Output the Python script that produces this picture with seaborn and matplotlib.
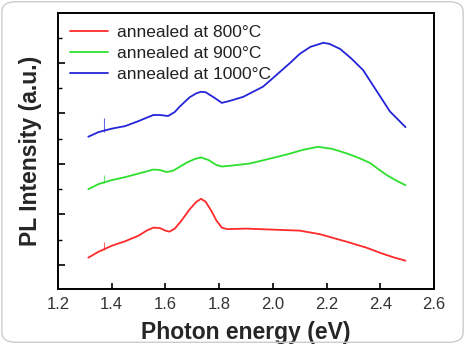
import matplotlib
matplotlib.use('Agg')
import matplotlib.pyplot as plt
import seaborn as sns
import pandas as pd
from matplotlib.patches import FancyBboxPatch
from matplotlib.ticker import MultipleLocator

# values (offset traces, arbitrary units)
x_800 = [1.313, 1.35, 1.40, 1.45, 1.50, 1.53, 1.555, 1.58, 1.60, 1.615, 1.635, 1.66, 1.69,
         1.715, 1.733, 1.75, 1.77, 1.79, 1.81, 1.83, 1.90, 2.00, 2.10, 2.175, 2.275, 2.35,
         2.40, 2.45, 2.494]
y_800 = [0.145, 0.26, 0.38, 0.47, 0.58, 0.68, 0.74, 0.73, 0.68, 0.66, 0.72, 0.88, 1.10,
         1.25, 1.31, 1.25, 1.08, 0.88, 0.74, 0.71, 0.72, 0.70, 0.68, 0.61, 0.46, 0.34,
         0.24, 0.15, 0.085]

x_900 = [1.313, 1.35, 1.40, 1.45, 1.50, 1.555, 1.58, 1.605, 1.63, 1.68, 1.71, 1.732, 1.76,
         1.79, 1.81, 1.85, 1.915, 2.00, 2.06, 2.112, 2.168, 2.22, 2.275, 2.32, 2.362, 2.40,
         2.424, 2.46, 2.494]
y_900 = [1.50, 1.60, 1.68, 1.74, 1.81, 1.89, 1.88, 1.84, 1.87, 2.03, 2.10, 2.13, 2.08,
         1.98, 1.95, 1.97, 2.01, 2.12, 2.20, 2.28, 2.34, 2.30, 2.21, 2.12, 2.02, 1.87,
         1.78, 1.67, 1.58]

x_1000 = [1.313, 1.35, 1.40, 1.45, 1.50, 1.555, 1.58, 1.61, 1.635, 1.654, 1.69, 1.715,
          1.733, 1.75, 1.78, 1.81, 1.84, 1.89, 1.963, 2.00, 2.064, 2.10, 2.14, 2.188, 2.21,
          2.25, 2.29, 2.336, 2.386, 2.436, 2.494]
y_1000 = [2.54, 2.63, 2.70, 2.75, 2.85, 2.97, 2.97, 2.95, 3.03, 3.14, 3.32, 3.40,
          3.43, 3.42, 3.32, 3.21, 3.25, 3.33, 3.53, 3.70, 4.00, 4.18, 4.32, 4.40, 4.38,
          4.28, 4.10, 3.86, 3.45, 3.04, 2.73]

# small spikes near 1.37 eV
spike_x = 1.37
spike_low = [0.30, 1.63, 2.64]
spike_high = [0.46, 1.78, 2.91]

labels = ['annealed at 800\u00b0C', 'annealed at 900\u00b0C', 'annealed at 1000\u00b0C']
colors = ['#ff2a2a', '#2ee02e', '#2424d8']

df = pd.concat([
    pd.DataFrame({'energy': x_800, 'pl': y_800, 'sample': labels[0]}),
    pd.DataFrame({'energy': x_900, 'pl': y_900, 'sample': labels[1]}),
    pd.DataFrame({'energy': x_1000, 'pl': y_1000, 'sample': labels[2]}),
])

sns.set_style('ticks')
plt.rcParams['font.family'] = ['Liberation Sans', 'DejaVu Sans']

fig = plt.figure(figsize=(4.65, 3.44), dpi=100)
ax = fig.add_axes([0.1247, 0.160, 0.8086, 0.8022])

sns.lineplot(data=df, x='energy', y='pl', hue='sample', palette=colors,
             estimator=None, sort=False, linewidth=1.3, ax=ax)
for lo, hi, c in zip(spike_low, spike_high, colors):
    ax.vlines(spike_x, lo, hi, color=c, linewidth=0.8, alpha=0.7)

ax.set_xlim(1.2, 2.6)
ax.set_ylim(-0.475, 4.99)
ax.xaxis.set_major_locator(MultipleLocator(0.2))
ax.yaxis.set_major_locator(MultipleLocator(1))
ax.yaxis.set_minor_locator(MultipleLocator(0.5))
ax.set_yticklabels([])
ax.tick_params(axis='both', which='both', direction='in', color='black')
ax.tick_params(axis='x', length=4, width=1.2, labelsize=12, labelcolor='#333333', pad=6)
ax.tick_params(axis='y', which='major', length=5, width=1.2)
ax.tick_params(axis='y', which='minor', length=3, width=1.0)
for s in ax.spines.values():
    s.set_linewidth(1.4)
    s.set_color('black')

ax.set_xlabel('Photon energy (eV)', fontsize=16.5, fontweight='bold', labelpad=6)
ax.set_ylabel('PL Intensity (a.u.)', fontsize=16.5, fontweight='bold', labelpad=8)

ax.legend(loc='upper left', frameon=False, fontsize=12.5, handlelength=2.2,
          handletextpad=0.5, labelspacing=0.32, borderaxespad=0.3)
for t in ax.get_legend().get_texts():
    t.set_color('#222222')

fig.patches.append(FancyBboxPatch((0.004, 0.005), 0.992, 0.99, boxstyle='round,pad=0,rounding_size=0.03',
                                  transform=fig.transFigure, fill=False, edgecolor='#cccccc', linewidth=1.0))

fig.savefig('out.png', dpi=100)
